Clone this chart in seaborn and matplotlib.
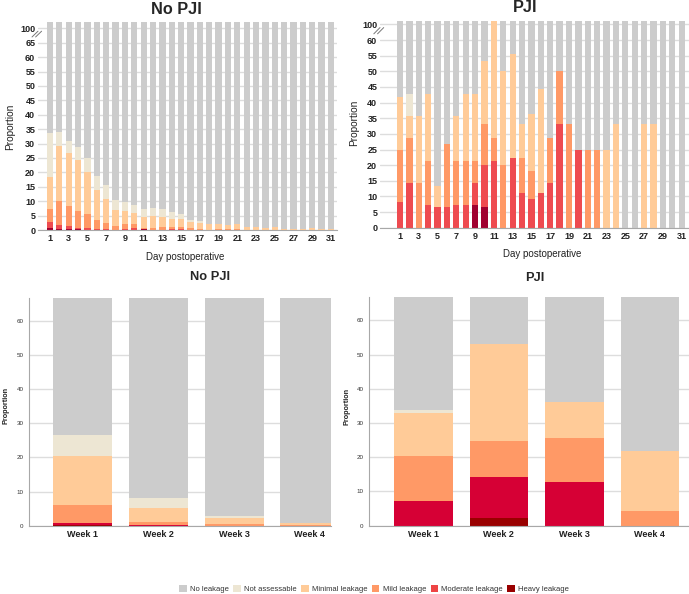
import matplotlib
matplotlib.use("Agg")
import matplotlib.pyplot as plt
from matplotlib.patches import Patch
import numpy as np
import seaborn as sns

sns.set_style("white")
plt.rcParams['font.family'] = ['Liberation Sans', 'DejaVu Sans']

# ---------------- data ----------------
days = [str(d) for d in range(1, 32)]
weeks = ["Week 1", "Week 2", "Week 3", "Week 4"]
categories = ["No leakage", "Not assessable", "Minimal leakage", "Mild leakage",
              "Moderate leakage", "Heavy leakage"]

# Daily, No PJI (percent per category)
nopji_day_heavy = [0.7, 0.5, 0.4, 0.2, 0, 0, 0, 0, 0, 0, 0.2, 0, 0, 0, 0, 0, 0, 0, 0, 0,
                   0, 0, 0, 0, 0, 0, 0, 0, 0, 0, 0]
nopji_day_moderate = [2.1, 1.3, 0.9, 0.5, 0.7, 0.3, 0.3, 0, 0.5, 0.6, 0.2, 0, 0, 0.4, 0.4, 0, 0, 0, 0, 0,
                      0, 0, 0, 0, 0, 0, 0, 0, 0, 0, 0]
nopji_day_mild = [4.5, 8.2, 7.0, 6.0, 4.7, 3.3, 2.1, 1.5, 1.5, 1.4, 0.2, 0.8, 1.2, 0.6, 0.6, 0.8, 0.5, 0, 0.3, 0.3,
                  0.3, 0, 0, 0, 0, 0, 0, 0, 0, 0, 0]
nopji_day_minimal = [11.0, 19.2, 18.4, 17.6, 14.6, 10.4, 8.3, 5.5, 4.5, 4.0, 4.0, 4.1, 3.3, 2.7, 2.7, 2.0, 1.9,
                     2.2, 1.9, 1.3, 1.7, 1.1, 1.1, 0.7, 1.1, 0.5, 0.4, 0.4, 0.7, 0.2, 0.2]
nopji_day_na = [15.3, 4.8, 4.1, 4.5, 5.0, 4.7, 4.8, 3.3, 3.2, 2.8, 2.8, 2.7, 2.8, 2.5, 1.7, 0.8, 0.8, 0, 0, 0,
                0, 0, 0, 0, 0, 0, 0, 0, 0, 0, 0]

# Daily, PJI
pji_day_heavy = [0, 0, 0, 0, 0, 0, 0, 0, 7.1, 6.7, 0, 0, 0, 0, 0, 0, 0, 0, 0, 0,
                 0, 0, 0, 0, 0, 0, 0, 0, 0, 0, 0]
pji_day_moderate = [8.3, 14.3, 0, 7.1, 6.7, 6.7, 7.1, 7.1, 7.2, 13.3, 21.4, 0, 22.2, 11.1, 9.1, 11.1, 14.3,
                    33.3, 0, 25.0, 0, 0, 0, 0, 0, 0, 0, 0, 0, 0, 0]
pji_day_mild = [16.7, 14.3, 14.3, 14.3, 0, 20.0, 14.3, 14.3, 7.1, 13.3, 7.2, 20.0, 0, 11.1, 9.1, 0, 14.3,
                16.7, 33.3, 0, 25.0, 25.0, 0, 0, 0, 0, 0, 0, 0, 0, 0]
pji_day_minimal = [16.7, 7.1, 21.4, 21.5, 6.6, 0, 14.3, 21.5, 21.5, 20.0, 71.4, 30.0, 33.4, 11.1, 18.2, 33.3,
                   0, 0, 0, 0, 0, 0, 25.0, 33.3, 0, 0, 33.3, 33.3, 0, 0, 0]
pji_day_na = [0, 7.2, 0, 0, 0, 0, 0, 0, 0, 0, 0, 0, 0, 0, 0, 0, 0, 0, 0, 0,
              0, 0, 0, 0, 0, 0, 0, 0, 0, 0, 0]

# Weekly, No PJI
nopji_week_heavy = [0.2, 0, 0, 0]
nopji_week_moderate = [0.7, 0.3, 0, 0]
nopji_week_mild = [5.1, 0.8, 0.5, 0.2]
nopji_week_minimal = [14.3, 4.0, 1.8, 0.6]
nopji_week_na = [6.1, 3.1, 0.5, 0.1]

# Weekly, PJI
pji_week_heavy = [0, 2.2, 0, 0]
pji_week_moderate = [7.1, 12.0, 12.8, 0]
pji_week_mild = [13.3, 10.5, 12.7, 4.3]
pji_week_minimal = [12.4, 28.3, 10.7, 17.6]
pji_week_na = [1.0, 0, 0, 0]

# ---------------- style ----------------
col_top = {"No leakage": "#CCCCCC", "Not assessable": "#EDE6D3", "Minimal leakage": "#FFCB98",
           "Mild leakage": "#FF9966", "Moderate leakage": "#EE4B50", "Heavy leakage": "#A0002F"}
col_bot = {"No leakage": "#CCCCCC", "Not assessable": "#EDE6D3", "Minimal leakage": "#FFCB98",
           "Mild leakage": "#FF9966", "Moderate leakage": "#D60035", "Heavy leakage": "#990000"}
col_leg = {"No leakage": "#CCCCCC", "Not assessable": "#EDE6D3", "Minimal leakage": "#FFCB98",
           "Mild leakage": "#FF9966", "Moderate leakage": "#EE4444", "Heavy leakage": "#990000"}

W, H = 689, 594
fig = plt.figure(figsize=(W / 100, H / 100), dpi=100)


def px_axes(l, t, r, b):
    return fig.add_axes([l / W, 1 - b / H, (r - l) / W, (b - t) / H])


def draw(ax, cats, heavy, moderate, mild, minimal, na, colors, width):
    segs = [np.array(heavy), np.array(moderate), np.array(mild), np.array(minimal), np.array(na)]
    cum = np.cumsum(segs, axis=0)
    nol = 100 - cum[-1]
    top = cum[-1] + nol
    layers = [("No leakage", top), ("Not assessable", cum[4]), ("Minimal leakage", cum[3]),
              ("Mild leakage", cum[2]), ("Moderate leakage", cum[1]), ("Heavy leakage", cum[0])]
    for name, vals in layers:
        sns.barplot(x=cats, y=list(vals), order=cats, color=colors[name], width=width,
                    saturation=1, linewidth=0, errorbar=None, ax=ax)
    ax.set_axisbelow(True)
    ax.yaxis.grid(True, color="#DDDDDD", lw=1.0)
    ax.xaxis.grid(False)
    ax.set_xlabel("")
    ax.set_ylabel("")
    ax.tick_params(length=0)
    for s in ["top", "right"]:
        ax.spines[s].set_visible(False)
    ax.spines["bottom"].set_color("#A8A8A8")


def break_mark(ax, y):
    tr = ax.get_yaxis_transform()
    for dx in (0.0, 0.012):
        ax.plot([-0.02 + dx, 0.0 + dx], [y - 1.0, y + 1.0], transform=tr, color="#777777",
                lw=0.7, clip_on=False)


# ---- top-left: daily No PJI ----
ax1 = px_axes(38, 21.7, 337, 230)
draw(ax1, days, nopji_day_heavy, nopji_day_moderate, nopji_day_mild, nopji_day_minimal,
     nopji_day_na, col_top, 0.67)
ax1.set_xlim(-1.28, 30.64)
ax1.set_ylim(0, 72.3)
yt = list(range(0, 70, 5)) + [70]
ax1.set_yticks(yt)
ax1.set_yticklabels([str(v) for v in range(0, 70, 5)] + ["100"], fontsize=6.5, fontweight="bold",
                    color="#222222")
ax1.spines["left"].set_visible(False)
break_mark(ax1, 68)

# ---- top-right: daily PJI ----
ax2 = px_axes(380, 20.7, 689, 227.7)
draw(ax2, days, pji_day_heavy, pji_day_moderate, pji_day_mild, pji_day_minimal,
     pji_day_na, col_top, 0.67)
ax2.set_xlim(-2.13, 30.78)
ax2.set_ylim(0, 66.2)
yt2 = list(range(0, 65, 5)) + [65]
ax2.set_yticks(yt2)
ax2.set_yticklabels([str(v) for v in range(0, 65, 5)] + ["100"], fontsize=6.5, fontweight="bold",
                    color="#222222")
ax2.spines["left"].set_visible(False)
break_mark(ax2, 63)

for ax in (ax1, ax2):
    ax.set_xticks(range(0, 31, 2))
    ax.set_xticklabels(days[::2], fontsize=6.5, fontweight="bold", color="#222222")
    ax.tick_params(axis="x", pad=3)
    ax.tick_params(axis="y", pad=2)

# ---- bottom-left: weekly No PJI ----
ax3 = px_axes(29, 297.7, 331, 525.7)
draw(ax3, weeks, nopji_week_heavy, nopji_week_moderate, nopji_week_mild, nopji_week_minimal,
     nopji_week_na, col_bot, 0.78)
ax3.set_xlim(-0.71, 3.28)
ax3.set_ylim(0, 66.7)

# ---- bottom-right: weekly PJI ----
ax4 = px_axes(369, 297, 689, 525.7)
draw(ax4, weeks, pji_week_heavy, pji_week_moderate, pji_week_mild, pji_week_minimal,
     pji_week_na, col_bot, 0.775)
ax4.set_xlim(-0.72, 3.52)
ax4.set_ylim(0, 66.8)

for ax in (ax3, ax4):
    ax.set_yticks(range(0, 70, 10))
    ax.set_yticklabels([str(v) for v in range(0, 70, 10)], fontsize=4.5, color="#333333")
    ax.set_xticklabels(weeks, fontsize=6.5, fontweight="bold", color="#222222")
    ax.tick_params(axis="x", pad=3)
    ax.tick_params(axis="y", pad=4)
    ax.spines["left"].set_color("#A8A8A8")

# ---- texts ----
fig.text(176.7 / W, 1 - 13.5 / H, "No PJI", ha="center", va="baseline", fontsize=11.7, fontweight="bold")
fig.text(525 / W, 1 - 12.5 / H, "PJI", ha="center", va="baseline", fontsize=11.7, fontweight="bold")
fig.text(210 / W, 1 - 280 / H, "No PJI", ha="center", va="baseline", fontsize=9.3, fontweight="bold")
fig.text(534.7 / W, 1 - 281 / H, "PJI", ha="center", va="baseline", fontsize=9.3, fontweight="bold")

fig.text(185 / W, 1 - 256.7 / H, "Day postoperative", ha="center", va="center", fontsize=7,
         color="#222222")
fig.text(541.7 / W, 1 - 254 / H, "Day postoperative", ha="center", va="center", fontsize=7,
         color="#222222")
fig.text(10 / W, 1 - 127 / H, "Proportion", ha="center", va="center", rotation=90, fontsize=7.3,
         color="#222222")
fig.text(354 / W, 1 - 123 / H, "Proportion", ha="center", va="center", rotation=90, fontsize=7.3,
         color="#222222")
fig.text(6 / W, 1 - 405 / H, "Proportion", ha="center", va="center", rotation=90, fontsize=5.2,
         fontweight="bold", color="#222222")
fig.text(347 / W, 1 - 406.7 / H, "Proportion", ha="center", va="center", rotation=90, fontsize=5.2,
         fontweight="bold", color="#222222")

# ---- legend ----
handles = [Patch(facecolor=col_leg[c], edgecolor="none", label=c) for c in categories]
fig.legend(handles=handles, loc="center", bbox_to_anchor=(374 / W, 1 - 589 / H), ncol=6,
           frameon=False, fontsize=5.5, handlelength=1.0, handleheight=1.0, handletextpad=0.4,
           columnspacing=0.6, borderpad=0.1, labelcolor="#333333")

fig.savefig("out.png", dpi=100)
